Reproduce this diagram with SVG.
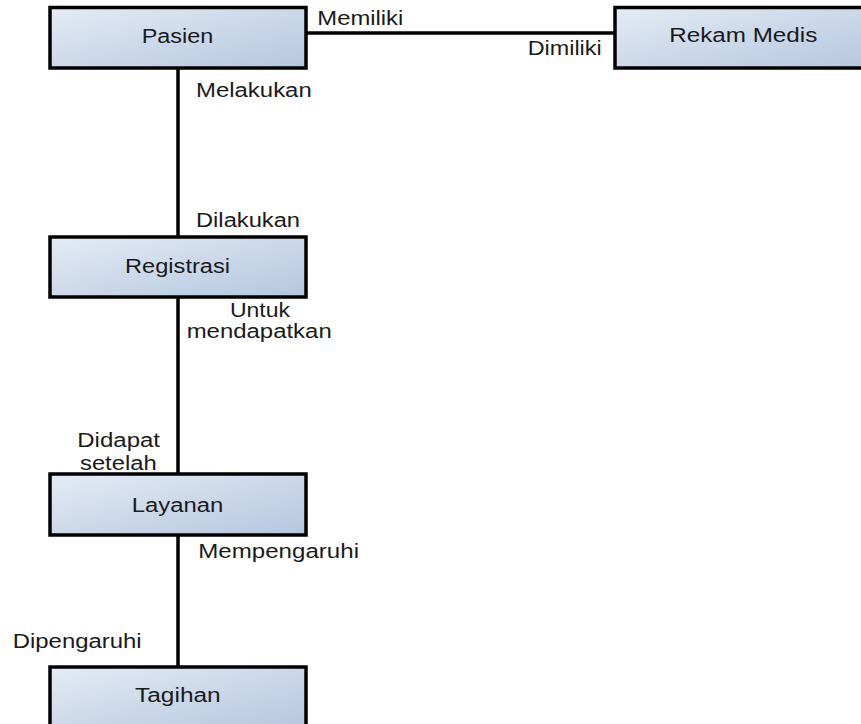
<svg xmlns="http://www.w3.org/2000/svg" width="861" height="724" viewBox="0 0 861 724">
<defs>
<linearGradient id="g" x1="0" y1="0" x2="1" y2="1">
<stop offset="0" stop-color="#e4ebf5"/>
<stop offset="1" stop-color="#b4c6df"/>
</linearGradient>
<style>
.box{fill:url(#g);stroke:#000;stroke-width:3.5}
.t{font-family:"Liberation Sans",Arial,sans-serif;font-size:20px;fill:#1a1a1a}
.ln{stroke:#000;stroke-width:3.5;fill:none}
</style>
</defs>
<rect width="861" height="724" fill="#fff"/>
<g id="connectors">
<line class="ln" x1="306" y1="33" x2="615" y2="33"/>
<line class="ln" x1="178" y1="68" x2="178" y2="237"/>
<line class="ln" x1="178" y1="297" x2="178" y2="474"/>
<line class="ln" x1="178" y1="535" x2="178" y2="667"/>
<text class="t" x="317.3" y="25" textLength="86" lengthAdjust="spacingAndGlyphs">Memiliki</text>
<text class="t" x="527.7" y="55" textLength="74" lengthAdjust="spacingAndGlyphs">Dimiliki</text>
<text class="t" x="196" y="97" textLength="115.7" lengthAdjust="spacingAndGlyphs">Melakukan</text>
<text class="t" x="196" y="226.7" textLength="104" lengthAdjust="spacingAndGlyphs">Dilakukan</text>
<text class="t" x="230" y="316.7" textLength="60" lengthAdjust="spacingAndGlyphs">Untuk</text>
<text class="t" x="186.7" y="338.3" textLength="145" lengthAdjust="spacingAndGlyphs">mendapatkan</text>
<text class="t" x="77.3" y="446.7" textLength="82.7" lengthAdjust="spacingAndGlyphs">Didapat</text>
<text class="t" x="80" y="470" textLength="76.7" lengthAdjust="spacingAndGlyphs">setelah</text>
<text class="t" x="198.3" y="558.3" textLength="160.7" lengthAdjust="spacingAndGlyphs">Mempengaruhi</text>
<text class="t" x="12.7" y="648.3" textLength="129" lengthAdjust="spacingAndGlyphs">Dipengaruhi</text>
</g>
<g id="pasien">
<rect class="box" x="50" y="7.5" width="256" height="60.5"/>
<text class="t" x="141.7" y="43.3" textLength="71.6" lengthAdjust="spacingAndGlyphs">Pasien</text>
</g>
<g id="rekam-medis">
<rect class="box" x="615" y="7.5" width="256" height="60.5"/>
<text class="t" x="669.3" y="42" textLength="148" lengthAdjust="spacingAndGlyphs">Rekam Medis</text>
</g>
<g id="registrasi">
<rect class="box" x="50" y="237" width="256" height="60"/>
<text class="t" x="125" y="273.3" textLength="105" lengthAdjust="spacingAndGlyphs">Registrasi</text>
</g>
<g id="layanan">
<rect class="box" x="50" y="474" width="256" height="61"/>
<text class="t" x="131.7" y="511.7" textLength="91.7" lengthAdjust="spacingAndGlyphs">Layanan</text>
</g>
<g id="tagihan">
<rect class="box" x="50" y="667" width="256" height="61"/>
<text class="t" x="135" y="701.7" textLength="85.7" lengthAdjust="spacingAndGlyphs">Tagihan</text>
</g>
</svg>
